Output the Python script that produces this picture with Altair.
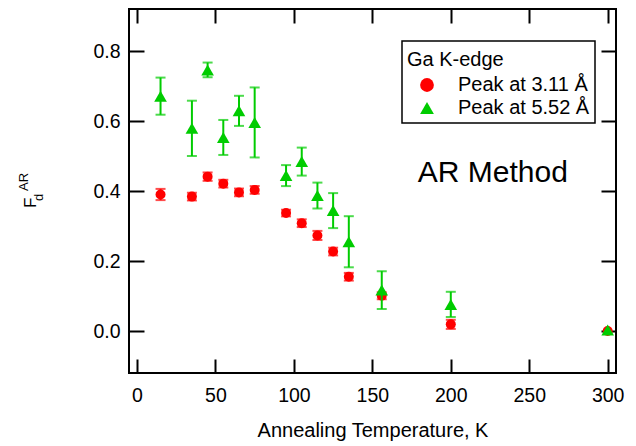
import altair as alt
import pandas as pd

# ---- data ----
temps_311 = [15, 35, 45, 55, 65, 75, 95, 105, 115, 125, 135, 156, 200, 300]
fd_311 = [0.390, 0.384, 0.441, 0.421, 0.396, 0.403, 0.337, 0.308, 0.273, 0.227, 0.155, 0.101, 0.019, 0.000]
err_311 = [0.016, 0.011, 0.012, 0.011, 0.011, 0.011, 0.0095, 0.011, 0.013, 0.011, 0.011, 0.010, 0.013, 0.0]

temps_552 = [15, 35, 45, 55, 65, 75, 95, 105, 115, 125, 135, 156, 200, 300]
fd_552 = [0.671, 0.579, 0.746, 0.553, 0.629, 0.596, 0.444, 0.484, 0.387, 0.344, 0.255, 0.117, 0.076, 0.003]
err_552 = [0.053, 0.079, 0.021, 0.050, 0.043, 0.100, 0.030, 0.040, 0.037, 0.050, 0.073, 0.054, 0.036, 0.0]

series_names = ["Peak at 3.11 Å", "Peak at 5.52 Å"]
legend_title = "Ga K-edge"
x_ticks = [0, 50, 100, 150, 200, 250, 300]
y_ticks = [0.0, 0.2, 0.4, 0.6, 0.8]
x_title = "Annealing Temperature, K"
y_title_parts = ["F", "d", "AR"]
annotation = ["AR Method"]

FONT = "Liberation Sans"
RED = "#ff0000"
GREEN = "#00cc00"


def make_df(t, v, e, name):
    d = pd.DataFrame({"T": t, "fd": v, "err": e})
    d["series"] = name
    d["lo"] = d["fd"] - d["err"]
    d["hi"] = d["fd"] + d["err"]
    return d


df_r = make_df(temps_311, fd_311, err_311, series_names[0])
df_g = make_df(temps_552, fd_552, err_552, series_names[1])


def caps(d):
    d = d[d["err"] > 0]
    return pd.concat([
        pd.DataFrame({"T": d["T"], "cap": d["lo"]}),
        pd.DataFrame({"T": d["T"], "cap": d["hi"]}),
    ])


xs = alt.Scale(domain=[-5.1, 305.3], nice=False, zero=False)
ys = alt.Scale(domain=[-0.12, 0.92], nice=False, zero=False)

common_axis = dict(grid=False, domain=False, tickColor="black", tickWidth=2)

ax_bottom = alt.Axis(orient="bottom", values=x_ticks, offset=-14, tickSize=14,
                     labelFontSize=19.5, labelColor="black", labelPadding=13,
                     format="d", title=x_title, titleFontSize=20,
                     titleFontWeight="normal", titleColor="black", titlePadding=16,
                     **common_axis)
ax_left = alt.Axis(orient="left", values=y_ticks, offset=-15, tickSize=15,
                   labelFontSize=19.5, labelColor="black", labelPadding=9,
                   format=".1f", title=None, **common_axis)
ax_top = alt.Axis(orient="top", values=x_ticks, offset=-14, tickSize=14,
                  labels=False, title=None, **common_axis)
ax_right = alt.Axis(orient="right", values=y_ticks, offset=-15, tickSize=15,
                    labels=False, title=None, **common_axis)

color_scale = alt.Scale(domain=series_names, range=[RED, GREEN])
shape_scale = alt.Scale(domain=series_names, range=["circle", "triangle-up"])
legend = alt.Legend(title=legend_title, orient="none", legendX=273, legendY=32,
                    symbolSize=190, symbolOffset=10, labelOffset=21,
                    rowPadding=3, titlePadding=9, padding=5,
                    titleBaseline="line-top", titleLineHeight=28)

# red error bars (carry bottom/left axes)
r_rules = alt.Chart(df_r[df_r["err"] > 0]).mark_rule(color=RED, strokeWidth=2).encode(
    x=alt.X("T:Q", scale=xs, axis=ax_bottom),
    y=alt.Y("lo:Q", scale=ys, axis=ax_left),
    y2="hi:Q",
)
r_caps = alt.Chart(caps(df_r)).mark_tick(orient="horizontal", size=10, thickness=2, color=RED).encode(
    x=alt.X("T:Q", scale=xs, axis=None),
    y=alt.Y("cap:Q", scale=ys, axis=None),
)
r_pts = alt.Chart(df_r).mark_point(filled=True, opacity=1, size=100, strokeWidth=0).encode(
    x=alt.X("T:Q", scale=xs, axis=None),
    y=alt.Y("fd:Q", scale=ys, axis=None),
    color=alt.Color("series:N", scale=color_scale, legend=legend),
    shape=alt.Shape("series:N", scale=shape_scale, legend=legend),
)
# green error bars (carry top/right axes)
g_rules = alt.Chart(df_g[df_g["err"] > 0]).mark_rule(color=GREEN, strokeWidth=2).encode(
    x=alt.X("T:Q", scale=xs, axis=ax_top),
    y=alt.Y("lo:Q", scale=ys, axis=ax_right),
    y2="hi:Q",
)
g_caps = alt.Chart(caps(df_g)).mark_tick(orient="horizontal", size=10, thickness=2, color=GREEN).encode(
    x=alt.X("T:Q", scale=xs, axis=None),
    y=alt.Y("cap:Q", scale=ys, axis=None),
)
g_pts = alt.Chart(df_g).mark_point(filled=True, opacity=1, size=160, strokeWidth=0).encode(
    x=alt.X("T:Q", scale=xs, axis=None),
    y=alt.Y("fd:Q", scale=ys, axis=None),
    color=alt.Color("series:N", scale=color_scale, legend=legend),
    shape=alt.Shape("series:N", scale=shape_scale, legend=legend),
)

ann = alt.Chart(pd.DataFrame({"label": annotation})).mark_text(
    align="left", baseline="alphabetic", fontSize=30, color="black"
).encode(
    x=alt.XDatum(179, type="quantitative", scale=xs, axis=None),
    y=alt.YDatum(0.426, type="quantitative", scale=ys, axis=None),
    text="label:N",
)

# y-axis title F_d^AR built from three rotated text pieces
def title_piece(txt, px, py, size):
    return alt.Chart(pd.DataFrame({"label": [txt]})).mark_text(
        align="left", baseline="alphabetic", angle=270, fontSize=size, color="black"
    ).encode(x=alt.value(px), y=alt.value(py), text="label:N")


yt_F = title_piece(y_title_parts[0], -93, 199, 17)
yt_d = title_piece(y_title_parts[1], -86, 192, 13)
yt_AR = title_piece(y_title_parts[2], -101, 182, 13)

chart = alt.layer(
    r_rules, r_caps, r_pts, g_rules, g_caps, g_pts, ann, yt_F, yt_d, yt_AR
).resolve_axis(
    x="independent", y="independent"
).properties(
    width=487, height=364,
    padding={"left": 121, "top": 1, "right": 12, "bottom": 72},
    autosize=alt.AutoSizeParams(type="none"),
).configure(
    font=FONT,
).configure_view(
    stroke="black", strokeWidth=2
).configure_legend(
    strokeColor="black", strokeWidth=1.5, fillColor="white",
    titleFontSize=20, titleFontWeight="normal", titleColor="black",
    labelFontSize=20, labelColor="black", cornerRadius=0,
)

chart.save("out.html", embed_options={"renderer": "svg", "actions": False})
